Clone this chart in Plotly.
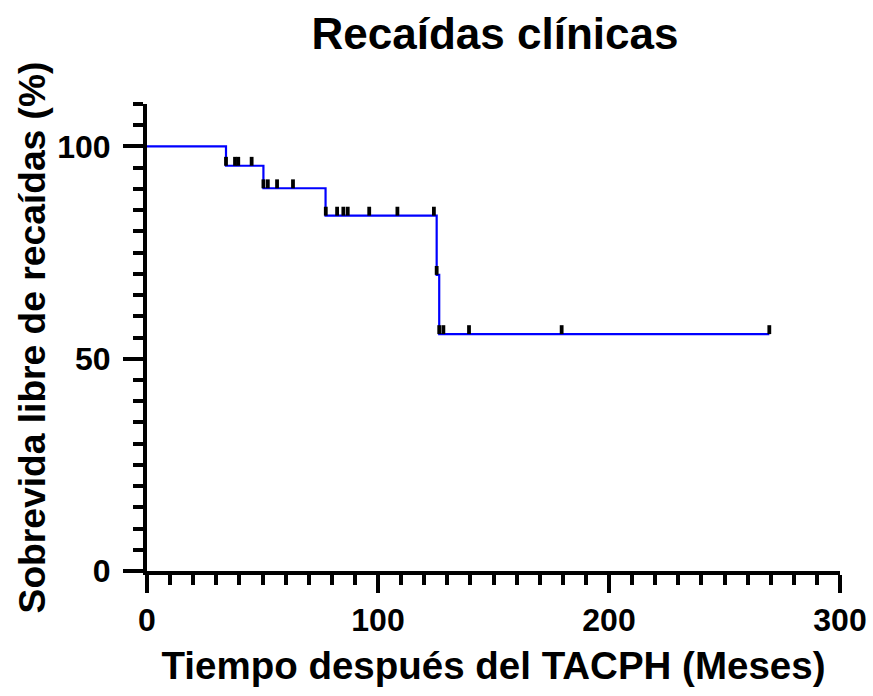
import plotly.graph_objects as go

# Kaplan-Meier step data
step_times = [0, 34.2, 50.4, 77.3, 125.4, 126.5, 269.4]
step_surv = [100, 95.45, 90.15, 83.7, 69.75, 55.8, 55.8]

# Censored observations (time, survival level)
cens_times = [34.2, 38.1, 39.5, 45.3,
              50.4, 52.3, 56.3, 63.2,
              77.4, 82.3, 85.0, 86.9, 96.2, 108.4, 124.2,
              125.4,
              126.5, 128.3, 139.4, 179.5, 269.4]
cens_surv = [95.45, 95.45, 95.45, 95.45,
             90.15, 90.15, 90.15, 90.15,
             83.7, 83.7, 83.7, 83.7, 83.7, 83.7, 83.7,
             69.75,
             55.8, 55.8, 55.8, 55.8, 55.8]

x_ticks = [0, 100, 200, 300]
y_ticks = [0, 50, 100]

FONT = "Arial, Liberation Sans, Helvetica, sans-serif"

fig = go.Figure()
fig.add_trace(go.Scatter(
    x=step_times, y=step_surv, mode="lines",
    line=dict(color="#0000FF", width=2.2, shape="hv"),
    showlegend=False, hoverinfo="skip",
))
fig.add_trace(go.Scatter(
    x=cens_times, y=cens_surv, mode="markers",
    marker=dict(size=1, color="rgba(0,0,0,0)"),
    error_y=dict(type="constant", value=2.1, valueminus=0, symmetric=False,
                 color="black", thickness=3.8, width=0),
    showlegend=False, hoverinfo="skip",
))

fig.update_layout(
    width=873, height=696,
    margin=dict(l=147, r=33, t=104, b=125, autoexpand=False),
    paper_bgcolor="white", plot_bgcolor="white",
    font=dict(family=FONT, color="black", weight="bold"),
    title=dict(text="Recaídas clínicas", x=495 / 873, xanchor="center",
               y=1 - 34 / 696, yanchor="middle", yref="container",
               font=dict(size=44, family=FONT, weight="bold", color="black")),
)
fig.update_xaxes(
    range=[0, 300], tickvals=x_ticks, ticktext=[str(v) for v in x_ticks],
    showgrid=False, zeroline=False,
    showline=True, linecolor="black", linewidth=4,
    ticks="outside", ticklen=18, tickwidth=4, tickcolor="black",
    ticklabeloverflow="allow",
    tickfont=dict(size=32, family=FONT, weight="bold"),
    minor=dict(dtick=10, ticks="outside", ticklen=10, tickwidth=4,
               tickcolor="black", showgrid=False),
    title=dict(text="Tiempo después del TACPH (Meses)", standoff=16,
               font=dict(size=38.5, family=FONT, weight="bold")),
)
fig.update_yaxes(
    range=[0, 110], tickvals=y_ticks, ticktext=[str(v) for v in y_ticks],
    showgrid=False, zeroline=False,
    showline=True, linecolor="black", linewidth=4,
    ticks="outside", ticklen=20, tickwidth=4, tickcolor="black",
    ticklabelstandoff=6,
    tickfont=dict(size=32, family=FONT, weight="bold"),
    minor=dict(dtick=5, ticks="outside", ticklen=10, tickwidth=4,
               tickcolor="black", showgrid=False),
    title=dict(text="Sobrevida libre de recaídas (%)", standoff=1,
               font=dict(size=37.2, family=FONT, weight="bold")),
)

fig.write_html("out.html",
               config={"displayModeBar": False},
               post_script="document.body.style.margin='0';document.body.style.overflow='hidden';")
